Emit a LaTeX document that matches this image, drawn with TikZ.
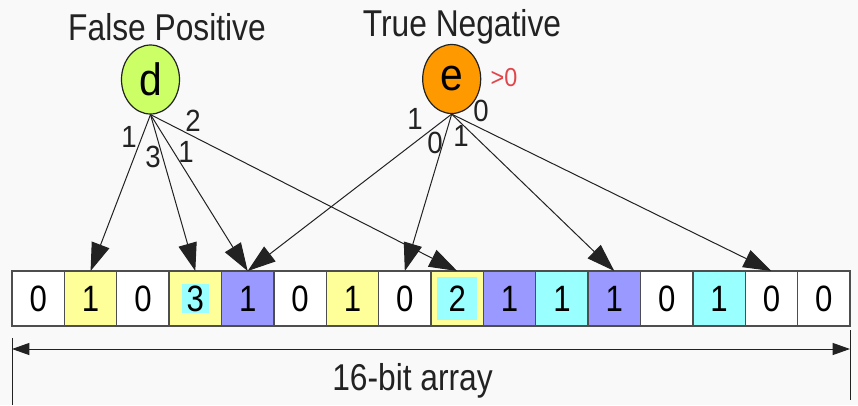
\documentclass[tikz,border=0pt]{standalone}
\usepackage{fontspec}
\setmainfont{Liberation Sans}
\newfontfamily\narrowfont[FakeStretch=0.85]{Liberation Sans}
\newfontfamily\labfont[FakeStretch=0.9]{Liberation Sans}
\usetikzlibrary{arrows.meta,shapes.geometric}
\definecolor{bg}{HTML}{F9F9F9}
\definecolor{cyel}{HTML}{FFFF99}
\definecolor{cblu}{HTML}{9999FF}
\definecolor{ccya}{HTML}{99FFFF}
\definecolor{cwht}{HTML}{FFFFFF}
\definecolor{dgreen}{HTML}{CCFF66}
\definecolor{eorange}{HTML}{FF9900}
\definecolor{redtxt}{HTML}{E0474C}
\definecolor{ink}{HTML}{222222}
\tikzset{
  cell/.style={draw=ink!80, line width=1.1pt, minimum width=39.28pt, minimum height=41.25pt,
    inner sep=0pt, outer sep=0pt, font=\narrowfont\fontsize{27.5}{27.5}\selectfont, text=black},
  elem/.style={ellipse, draw=ink, line width=0.9pt, minimum width=43.5pt, minimum height=51.75pt,
    inner sep=0pt, font=\labfont\fontsize{34}{34}\selectfont},
  title/.style={font=\narrowfont\fontsize{28}{28}\selectfont, text=ink},
  elab/.style={font=\labfont\fontsize{23}{23}\selectfont, text=ink, inner sep=0pt},
  hash/.style={draw=ink, line width=0.75pt, -{Triangle[length=21pt,width=14pt]}},
  inner/.style={path picture={\fill[ccya] ([xshift=#1,yshift=#1]path picture bounding box.south west) rectangle ([xshift=-#1,yshift=-#1]path picture bounding box.north east);}},
}
\begin{document}
\begin{tikzpicture}[x=0.75pt,y=-0.75pt]
\fill[bg] (0,0) rectangle (858,405);
\useasboundingbox (0,0) rectangle (858,405);
% titles
\node[title] (tfp) at (167,27) {False Positive};
\node[title] (ttn) at (462,27) {True Negative};
% elements
\node[elem, fill=dgreen] (d) at (150.5,79.5) {d};
\node[elem, fill=eorange] (e) at (451.7,79) {e};
\node[font=\labfont\fontsize{19.5}{19.5}\selectfont, text=redtxt] (gt) at (504,78) {>0};
% array
\def\cw{52.375}
\foreach \i/\v/\c in {0/0/cwht,1/1/cyel,2/0/cwht,4/1/cblu,5/0/cwht,6/1/cyel,7/0/cwht,9/1/cblu,10/1/ccya,11/1/cblu,12/0/cwht,13/1/ccya,14/0/cwht,15/0/cwht}{
  \node[cell, fill=\c] (c\i) at ({12+\cw*(\i+0.5)},298.5) {\v};
}
\node[cell, fill=cyel, inner=9.75pt] (c3) at ({12+\cw*3.5},298.5) {3};
\node[cell, fill=cyel, inner=4.5pt] (c8) at ({12+\cw*8.5},298.5) {2};
% edges from d
\draw[hash] (d.south) -- (c1.north);
\draw[hash] (d.south) -- (c3.north);
\draw[hash] (d.south) -- (c4.north);
\draw[hash] (d.south) -- (c8.north);
% edges from e
\draw[hash] (e.south) -- (c4.north);
\draw[hash] (e.south) -- (c7.north);
\draw[hash] (e.south) -- (c11.north);
\draw[hash] (e.south) -- (c14.north);
% edge labels
\node[elab] (ld1) at (129,137) {1};
\node[elab] (ld3) at (153,157) {3};
\node[elab] (ld4) at (186,152) {1};
\node[elab] (ld8) at (193,121) {2};
\node[elab] (le4) at (415,119) {1};
\node[elab] (le7) at (435,143) {0};
\node[elab] (le11) at (461,136) {1};
\node[elab] (le14) at (481,111) {0};
% dimension
\coordinate (dl) at (12,349);
\coordinate (dr) at (850,349);
\coordinate (tl1) at (12,338);
\coordinate (tl2) at (12,405);
\coordinate (tr1) at (850,330);
\coordinate (tr2) at (850,400);
\draw[ink, line width=0.75pt] (tl1) -- (tl2);
\draw[ink, line width=0.75pt] (tr1) -- (tr2);
\draw[ink, line width=0.75pt, {Triangle[length=13pt,width=9pt]}-{Triangle[length=13pt,width=9pt]}] (dl) -- (dr);
\node[title] (arr) at (412.5,381) {16-bit array};
\end{tikzpicture}
\end{document}
